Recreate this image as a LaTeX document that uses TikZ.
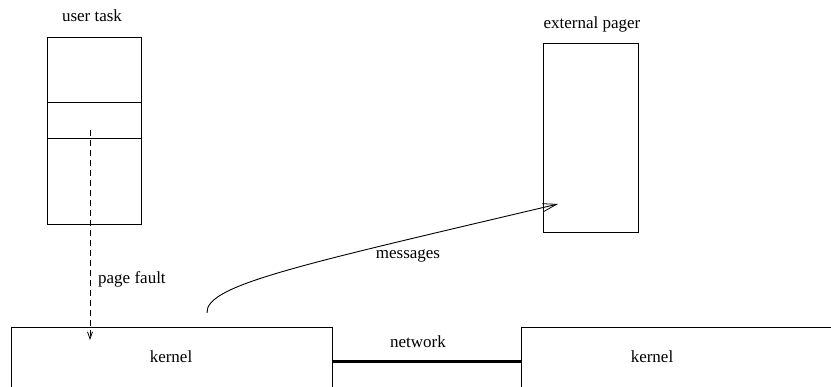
\documentclass[tikz,border=0pt]{standalone}
\usepackage{fontspec}
\setmainfont{Liberation Serif}
\usetikzlibrary{arrows.meta}
\begin{document}
\begin{tikzpicture}[x=1pt,y=-1pt,
  box/.style={draw,line width=0.9pt,inner sep=0pt,outer sep=0pt},
  lbl/.style={font=\fontsize{17}{20}\selectfont,inner sep=0pt},
  thin/.style={line width=0.9pt},
  vtip/.style={-{Straight Barb[length=7pt,width=5pt,line width=0.8pt]}},
  longtip/.style={-{Straight Barb[length=14pt,width=8pt,line width=0.8pt]}}]
\useasboundingbox (0,0) rectangle (831,387);
\clip (0,0) rectangle (831,387);

% user task
\node[box,minimum width=94pt,minimum height=187pt] (task) at (94,130.5) {};
\node[lbl] (tasklbl) at (92,16) {user task};
\draw[thin] (task.west |- 0,102) -- (task.east |- 0,102);
\draw[thin] (task.west |- 0,138) -- (task.east |- 0,138);
\coordinate (fault) at (90,130);

% external pager
\node[box,minimum width=95pt,minimum height=189pt] (pager) at (590.5,137.5) {};
\node[lbl] (pagerlbl) at (592,24) {external pager};
\coordinate (msgend) at (558,204);

% kernels (open below the page edge)
\node[box,minimum width=321pt,minimum height=80pt] (k1) at (171.5,367) {};
\node[lbl] (k1lbl) at (171,357) {kernel};
\node[box,minimum width=340pt,minimum height=80pt] (k2) at (691,367) {};
\node[lbl] (k2lbl) at (652,357) {kernel};
\coordinate (faultend) at (90,340);
\coordinate (msgstart) at (207,313);

% network link
\draw[line width=3pt] (k1.east |- 0,362) -- (k2.west |- 0,362);
\node[lbl] (netlbl) at (418,342) {network};

% page fault
\draw[thin,dash pattern=on 6pt off 4pt,vtip] (fault) -- (faultend);
\node[lbl,anchor=west] (faultlbl) at (98,279) {page fault};

% messages
\draw[thin,longtip] (msgstart) .. controls (205,285) and (300,265) .. (msgend);
\node[lbl] (msglbl) at (408,256) {messages};
\end{tikzpicture}
\end{document}
